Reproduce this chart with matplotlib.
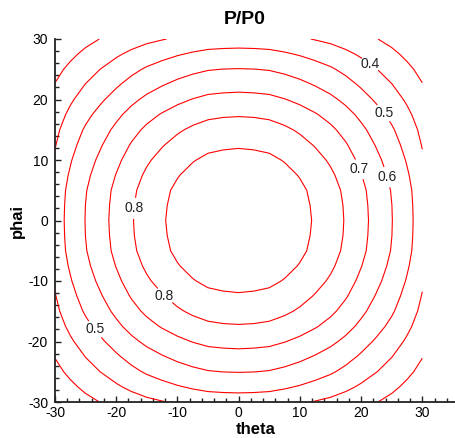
import numpy as np
import matplotlib
matplotlib.use('Agg')
import matplotlib.pyplot as plt
from matplotlib.ticker import MultipleLocator

plt.rcParams['font.family'] = ['Liberation Sans', 'DejaVu Sans']
plt.rcParams['axes.unicode_minus'] = False

# measurement grid, 2.5 degree steps
theta = [-30, -27.5, -25, -22.5, -20, -17.5, -15, -12.5, -10, -7.5, -5, -2.5, 0,
         2.5, 5, 7.5, 10, 12.5, 15, 17.5, 20, 22.5, 25, 27.5, 30]
phai = [-30, -27.5, -25, -22.5, -20, -17.5, -15, -12.5, -10, -7.5, -5, -2.5, 0,
        2.5, 5, 7.5, 10, 12.5, 15, 17.5, 20, 22.5, 25, 27.5, 30]

# P/P0, rows = phai (bottom to top), columns = theta
p_ratio = [
    [0.207, 0.241, 0.274, 0.303, 0.330, 0.355, 0.378, 0.395, 0.412, 0.438, 0.449, 0.453, 0.455, 0.453, 0.449, 0.438, 0.412, 0.395, 0.378, 0.355, 0.330, 0.303, 0.274, 0.241, 0.207],
    [0.241, 0.281, 0.320, 0.354, 0.387, 0.420, 0.449, 0.472, 0.493, 0.510, 0.523, 0.528, 0.530, 0.528, 0.523, 0.510, 0.493, 0.472, 0.449, 0.420, 0.387, 0.354, 0.320, 0.281, 0.241],
    [0.274, 0.320, 0.364, 0.402, 0.441, 0.478, 0.511, 0.537, 0.561, 0.580, 0.595, 0.601, 0.603, 0.601, 0.595, 0.580, 0.561, 0.537, 0.511, 0.478, 0.441, 0.402, 0.364, 0.320, 0.274],
    [0.303, 0.354, 0.402, 0.445, 0.488, 0.529, 0.565, 0.594, 0.620, 0.642, 0.658, 0.664, 0.667, 0.664, 0.658, 0.642, 0.620, 0.594, 0.565, 0.529, 0.488, 0.445, 0.402, 0.354, 0.303],
    [0.330, 0.387, 0.441, 0.488, 0.534, 0.580, 0.619, 0.651, 0.680, 0.703, 0.721, 0.728, 0.731, 0.728, 0.721, 0.703, 0.680, 0.651, 0.619, 0.580, 0.534, 0.488, 0.441, 0.387, 0.330],
    [0.355, 0.420, 0.478, 0.529, 0.580, 0.629, 0.672, 0.707, 0.737, 0.763, 0.782, 0.790, 0.793, 0.790, 0.782, 0.763, 0.737, 0.707, 0.672, 0.629, 0.580, 0.529, 0.478, 0.420, 0.355],
    [0.378, 0.449, 0.511, 0.565, 0.619, 0.672, 0.717, 0.755, 0.788, 0.815, 0.835, 0.844, 0.847, 0.844, 0.835, 0.815, 0.788, 0.755, 0.717, 0.672, 0.619, 0.565, 0.511, 0.449, 0.378],
    [0.395, 0.472, 0.537, 0.594, 0.651, 0.707, 0.755, 0.794, 0.829, 0.857, 0.879, 0.887, 0.891, 0.887, 0.879, 0.857, 0.829, 0.794, 0.755, 0.707, 0.651, 0.594, 0.537, 0.472, 0.395],
    [0.412, 0.493, 0.561, 0.620, 0.680, 0.737, 0.788, 0.829, 0.865, 0.895, 0.917, 0.926, 0.930, 0.926, 0.917, 0.895, 0.865, 0.829, 0.788, 0.737, 0.680, 0.620, 0.561, 0.493, 0.412],
    [0.438, 0.510, 0.580, 0.642, 0.703, 0.763, 0.815, 0.857, 0.895, 0.925, 0.949, 0.958, 0.962, 0.958, 0.949, 0.925, 0.895, 0.857, 0.815, 0.763, 0.703, 0.642, 0.580, 0.510, 0.438],
    [0.449, 0.523, 0.595, 0.658, 0.721, 0.782, 0.835, 0.879, 0.917, 0.949, 0.972, 0.982, 0.986, 0.982, 0.972, 0.949, 0.917, 0.879, 0.835, 0.782, 0.721, 0.658, 0.595, 0.523, 0.449],
    [0.453, 0.528, 0.601, 0.664, 0.728, 0.790, 0.844, 0.887, 0.926, 0.958, 0.982, 0.992, 0.996, 0.992, 0.982, 0.958, 0.926, 0.887, 0.844, 0.790, 0.728, 0.664, 0.601, 0.528, 0.453],
    [0.455, 0.530, 0.603, 0.667, 0.731, 0.793, 0.847, 0.891, 0.930, 0.962, 0.986, 0.996, 1.000, 0.996, 0.986, 0.962, 0.930, 0.891, 0.847, 0.793, 0.731, 0.667, 0.603, 0.530, 0.455],
    [0.453, 0.528, 0.601, 0.664, 0.728, 0.790, 0.844, 0.887, 0.926, 0.958, 0.982, 0.992, 0.996, 0.992, 0.982, 0.958, 0.926, 0.887, 0.844, 0.790, 0.728, 0.664, 0.601, 0.528, 0.453],
    [0.449, 0.523, 0.595, 0.658, 0.721, 0.782, 0.835, 0.879, 0.917, 0.949, 0.972, 0.982, 0.986, 0.982, 0.972, 0.949, 0.917, 0.879, 0.835, 0.782, 0.721, 0.658, 0.595, 0.523, 0.449],
    [0.438, 0.510, 0.580, 0.642, 0.703, 0.763, 0.815, 0.857, 0.895, 0.925, 0.949, 0.958, 0.962, 0.958, 0.949, 0.925, 0.895, 0.857, 0.815, 0.763, 0.703, 0.642, 0.580, 0.510, 0.438],
    [0.412, 0.493, 0.561, 0.620, 0.680, 0.737, 0.788, 0.829, 0.865, 0.895, 0.917, 0.926, 0.930, 0.926, 0.917, 0.895, 0.865, 0.829, 0.788, 0.737, 0.680, 0.620, 0.561, 0.493, 0.412],
    [0.395, 0.472, 0.537, 0.594, 0.651, 0.707, 0.755, 0.794, 0.829, 0.857, 0.879, 0.887, 0.891, 0.887, 0.879, 0.857, 0.829, 0.794, 0.755, 0.707, 0.651, 0.594, 0.537, 0.472, 0.395],
    [0.378, 0.449, 0.511, 0.565, 0.619, 0.672, 0.717, 0.755, 0.788, 0.815, 0.835, 0.844, 0.847, 0.844, 0.835, 0.815, 0.788, 0.755, 0.717, 0.672, 0.619, 0.565, 0.511, 0.449, 0.378],
    [0.355, 0.420, 0.478, 0.529, 0.580, 0.629, 0.672, 0.707, 0.737, 0.763, 0.782, 0.790, 0.793, 0.790, 0.782, 0.763, 0.737, 0.707, 0.672, 0.629, 0.580, 0.529, 0.478, 0.420, 0.355],
    [0.330, 0.387, 0.441, 0.488, 0.534, 0.580, 0.619, 0.651, 0.680, 0.703, 0.721, 0.728, 0.731, 0.728, 0.721, 0.703, 0.680, 0.651, 0.619, 0.580, 0.534, 0.488, 0.441, 0.387, 0.330],
    [0.303, 0.354, 0.402, 0.445, 0.488, 0.529, 0.565, 0.594, 0.620, 0.642, 0.658, 0.664, 0.667, 0.664, 0.658, 0.642, 0.620, 0.594, 0.565, 0.529, 0.488, 0.445, 0.402, 0.354, 0.303],
    [0.274, 0.320, 0.364, 0.402, 0.441, 0.478, 0.511, 0.537, 0.561, 0.580, 0.595, 0.601, 0.603, 0.601, 0.595, 0.580, 0.561, 0.537, 0.511, 0.478, 0.441, 0.402, 0.364, 0.320, 0.274],
    [0.241, 0.281, 0.320, 0.354, 0.387, 0.420, 0.449, 0.472, 0.493, 0.510, 0.523, 0.528, 0.530, 0.528, 0.523, 0.510, 0.493, 0.472, 0.449, 0.420, 0.387, 0.354, 0.320, 0.281, 0.241],
    [0.207, 0.241, 0.274, 0.303, 0.330, 0.355, 0.378, 0.395, 0.412, 0.438, 0.449, 0.453, 0.455, 0.453, 0.449, 0.438, 0.412, 0.395, 0.378, 0.355, 0.330, 0.303, 0.274, 0.241, 0.207],
]

levels = [0.3, 0.4, 0.5, 0.6, 0.7, 0.8, 0.9]

# where the level labels sit (theta, phai)
label_spots = [(21.4, 25.7), (23.5, 17.6), (20.4, 8.8), (24.0, 7.1),
               (-17.0, 2.0), (-12.2, -12.6), (-23.7, -18.2)]

fig = plt.figure(figsize=(4.56, 4.38), dpi=100)
ax = fig.add_axes([55 / 456, 36 / 438, 401 / 456, 363 / 438])

cs = ax.contour(theta, phai, np.array(p_ratio), levels=levels,
                colors='#ff0000', linewidths=0.8)
labels = ax.clabel(cs, manual=label_spots, inline=True, inline_spacing=1,
                   fontsize=10, colors='#222222', fmt='%.1f')
for t in labels:
    t.set_rotation(0)

ax.set_xlim(-30, 35.5)
ax.set_ylim(-30, 30)
ax.xaxis.set_major_locator(MultipleLocator(10))
ax.xaxis.set_minor_locator(MultipleLocator(2))
ax.yaxis.set_major_locator(MultipleLocator(10))
ax.yaxis.set_minor_locator(MultipleLocator(2))

for side in ['top', 'right']:
    ax.spines[side].set_visible(False)
for side in ['left', 'bottom']:
    ax.spines[side].set_linewidth(1.3)
    ax.spines[side].set_color('#222222')

ax.tick_params(which='both', direction='in', color='#222222', width=1.0,
               labelsize=10, top=False, right=False)
ax.tick_params(which='major', length=4.5)
ax.tick_params(which='minor', length=2.8)
ax.tick_params(axis='x', pad=3)
ax.tick_params(axis='y', pad=5)

ax.set_xlabel('theta', fontsize=12, fontweight='bold', labelpad=1)
ax.set_ylabel('phai', fontsize=12, fontweight='bold', labelpad=2)
fig.text(245 / 456, 1 - 19 / 438, 'P/P0', fontsize=14, fontweight='bold',
         ha='center', va='center')

fig.savefig('out.png', dpi=100)
